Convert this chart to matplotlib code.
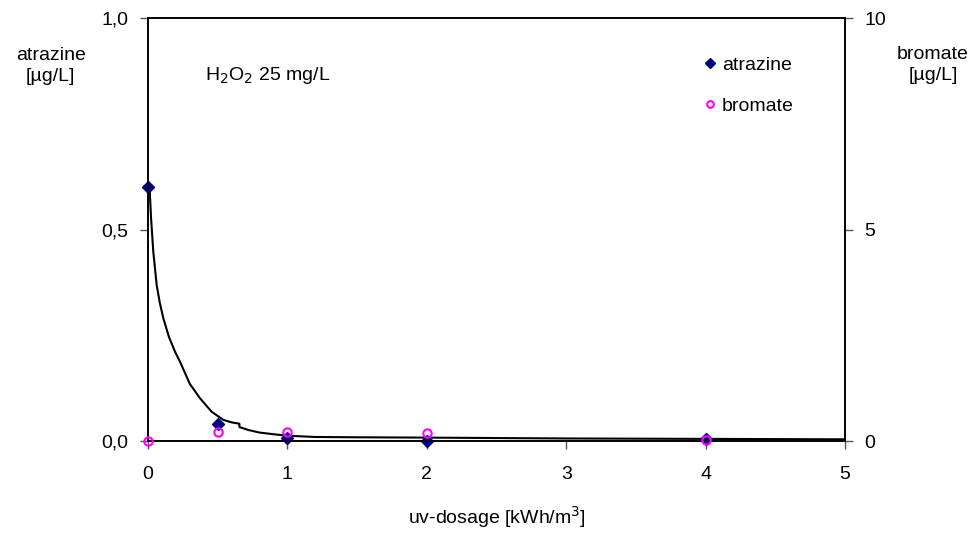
import matplotlib.pyplot as plt
from matplotlib.ticker import FuncFormatter

# measured values
dosage = [0, 0.5, 1, 2, 4]
atrazine = [0.60, 0.040, 0.006, 0.0, 0.004]
bromate = [0.0, 0.21, 0.21, 0.20, 0.02]

# trend line for atrazine
trend_x = [0, 0.012, 0.022, 0.038, 0.062, 0.085, 0.11, 0.15, 0.194, 0.23, 0.30, 0.373,
           0.457, 0.54, 0.60, 0.655, 0.656, 0.72, 0.80, 0.90, 1.0, 1.2, 1.5, 2, 3, 4, 5]
trend_y = [0.60, 0.593, 0.526, 0.447, 0.369, 0.326, 0.290, 0.246, 0.211, 0.187, 0.135,
           0.101, 0.069, 0.050, 0.044, 0.041, 0.033, 0.026, 0.020, 0.016, 0.0125, 0.0095,
           0.0088, 0.008, 0.006, 0.005, 0.004]

plt.rcParams['font.family'] = ['Liberation Sans', 'DejaVu Sans']
FS = 14

fig = plt.figure(figsize=(9.77, 5.33), dpi=100)
ax = fig.add_axes([0.1515, 0.1726, 0.7134, 0.7936])
ax2 = ax.twinx()

ax.plot(trend_x, trend_y, color='black', lw=1.5, zorder=2)
ax.plot(dosage, atrazine, 'D', color='#000080', ms=6.5, label='atrazine', zorder=3, clip_on=False)
ax2.plot(dosage, bromate, 'o', mfc='none', mec='#ff00ff', mew=1.5, ms=6,
         label='bromate', zorder=3, clip_on=False)

ax.set_xlim(0, 5)
ax.set_ylim(0, 1.0)
ax2.set_ylim(0, 10)
ax.set_xticks([0, 1, 2, 3, 4, 5])
ax.set_yticks([0, 0.5, 1.0])
ax2.set_yticks([0, 5, 10])
ax.yaxis.set_major_formatter(FuncFormatter(lambda v, p: f"{v:.1f}".replace('.', ',')))

for a in (ax, ax2):
    a.tick_params(direction='out', length=6, width=1, labelsize=FS, color='#555555', pad=8)
    for s in a.spines.values():
        s.set_color('black')
        s.set_linewidth(1.2)
ax.tick_params(axis='x', pad=12)

ax.set_xlabel('uv-dosage [kWh/m$^3$]', fontsize=FS, labelpad=15)
fig.text(0.052, 0.876, 'atrazine\n[µg/L]', ha='center', va='center', fontsize=FS, linespacing=1.35)
fig.text(0.955, 0.878, 'bromate\n[µg/L]', ha='center', va='center', fontsize=FS, linespacing=1.35)
ax.text(0.082, 0.863, 'H$_2$O$_2$ 25 mg/L', transform=ax.transAxes, fontsize=FS, va='center')

h1, l1 = ax.get_legend_handles_labels()
h2, l2 = ax2.get_legend_handles_labels()
ax2.legend(h1 + h2, l1 + l2, loc='upper left', bbox_to_anchor=(0.7977, 0.910), frameon=False,
           fontsize=FS, handlelength=0.6, handletextpad=0.32, labelspacing=1.2,
           markerscale=0.8, borderpad=0, borderaxespad=0)

fig.savefig('out.png', dpi=100)
